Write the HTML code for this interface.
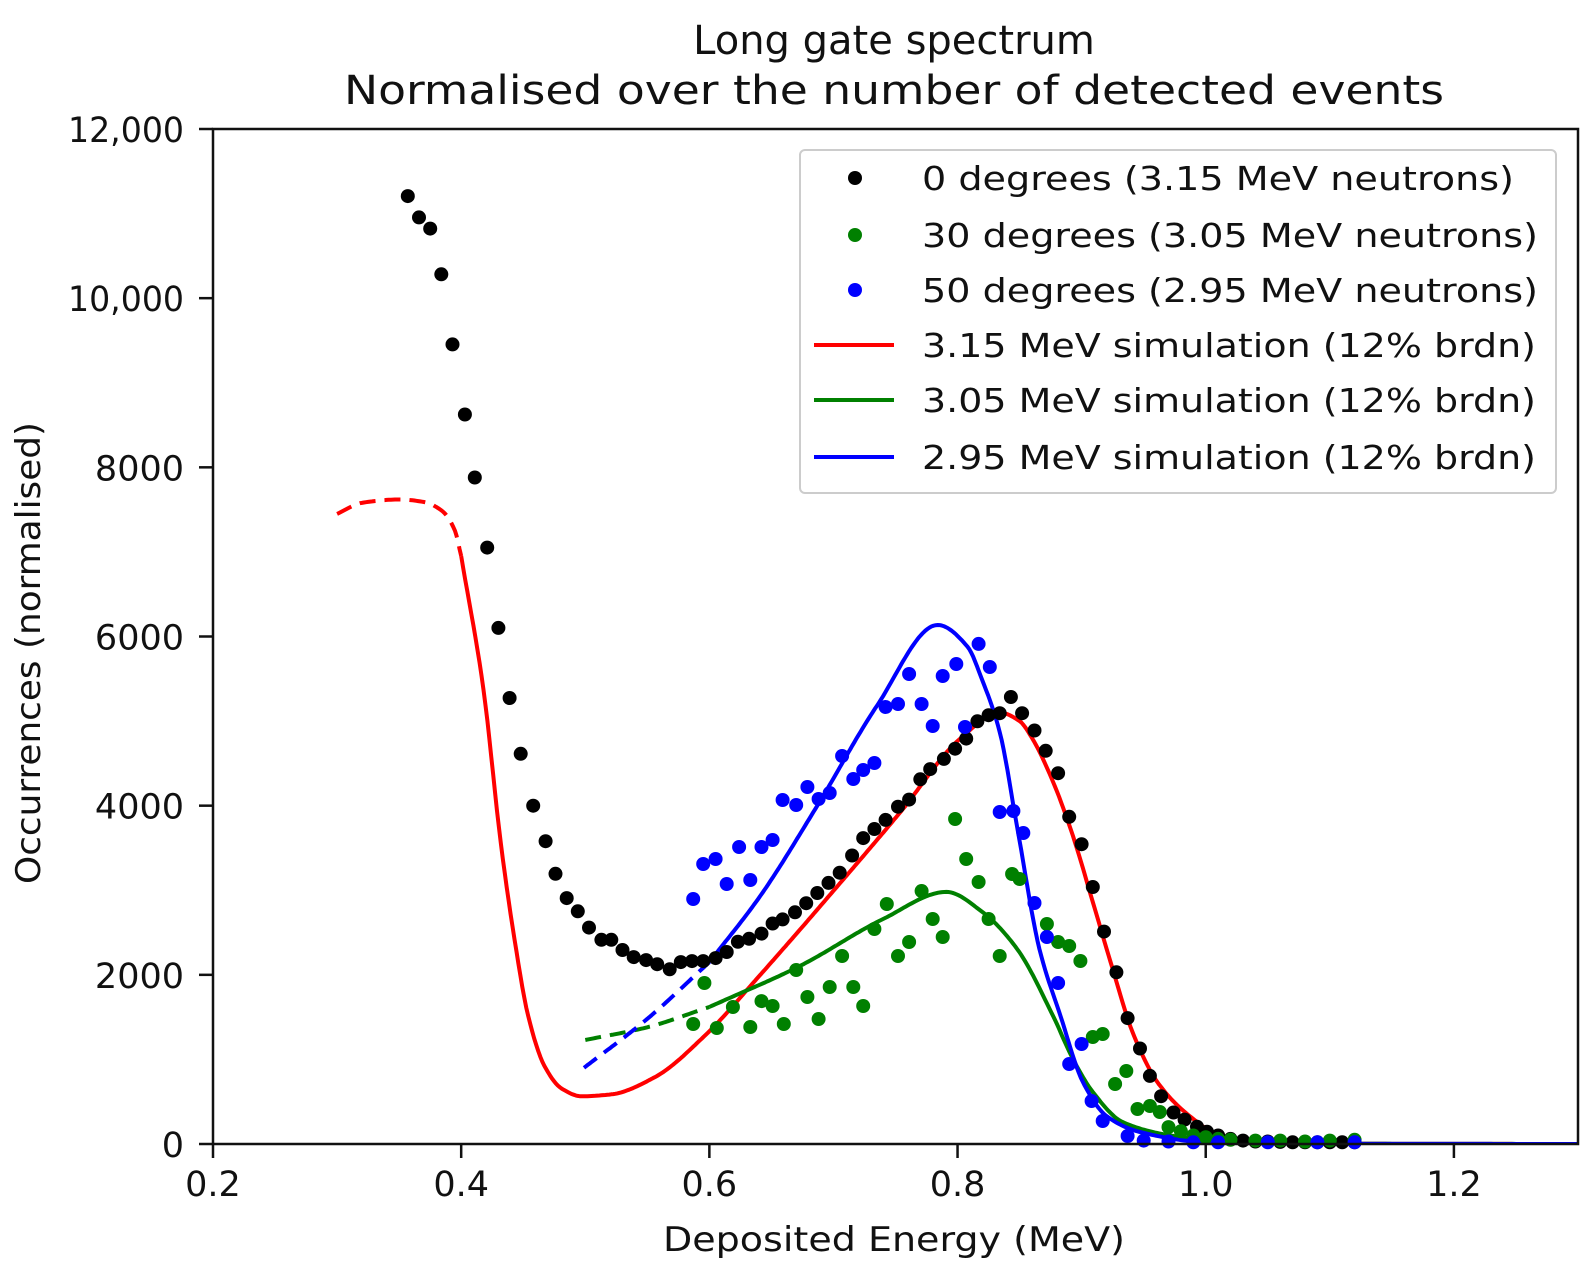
<!DOCTYPE html>
<html><head><meta charset="utf-8"><style>
html,body{margin:0;padding:0;background:#fff;}
svg{display:block;font-family:"DejaVu Sans","Liberation Sans",sans-serif;}
</style></head><body>
<svg id="chart" width="1593" height="1276" viewBox="0 0 1593 1276" xmlns="http://www.w3.org/2000/svg">
<rect x="0" y="0" width="1593" height="1276" fill="#fff"/>
<text x="894" y="54" font-size="40" text-anchor="middle" fill="#111">Long gate spectrum</text>
<text x="894" y="104" font-size="40" text-anchor="middle" fill="#111" textLength="1100" lengthAdjust="spacingAndGlyphs">Normalised over the number of detected events</text>
<g id="plot"></g>
<text x="894" y="1251" font-size="34" text-anchor="middle" fill="#111" textLength="462" lengthAdjust="spacingAndGlyphs">Deposited Energy (MeV)</text>
<text x="0" y="0" font-size="34" text-anchor="middle" fill="#111" transform="translate(40,653) rotate(-90)" textLength="462" lengthAdjust="spacingAndGlyphs">Occurrences (normalised)</text>
<g id="legend"></g>
</svg>
<script>
const xTicks=[0.2,0.4,0.6,0.8,1.0,1.2];
const xTickLabels=["0.2","0.4","0.6","0.8","1.0","1.2"];
const yTicks=[0,2000,4000,6000,8000,10000,12000];
const yTickLabels=["0","2000","4000","6000","8000","10,000","12,000"];
const blackX=[.357,.366,.375,.384,.393,.403,.411,.421,.430,.439,.448,.458,.468,.476,.485,.494,.503,.513,.521,.530,.539,.549,.558,.568,.577,.586,.595,.605,.614,.623,.632,.642,.651,.659,.669,.678,.687,.696,.705,.715,.724,.733,.742,.752,.761,.770,.778,.789,.798,.807,.816,.825,.834,.843,.852,.862,.871,.881,.890,.900,.909,.918,.928,.937,.947,.955,.964,.974,.983,.993,1.001,1.01,1.02,1.03,1.04,1.05,1.06,1.07,1.08,1.09,1.10,1.11,1.12];
const blackY=[11207,10955,10823,10282,9453,8625,7880,7051,6102,5273,4613,4000,3580,3195,2907,2751,2559,2414,2414,2294,2210,2174,2126,2066,2150,2162,2162,2198,2270,2390,2426,2487,2607,2655,2739,2847,2967,3087,3207,3411,3616,3724,3832,3988,4072,4312,4432,4553,4673,4793,4997,5069,5093,5285,5093,4889,4649,4384,3868,3544,3039,2511,2030,1489,1129,805,565,372,288,204,144,100,60,40,30,30,25,20,20,20,20,20,20];
const greenX=[.587,.596,.606,.619,.633,.642,.651,.660,.670,.679,.688,.697,.707,.716,.724,.733,.743,.752,.761,.771,.780,.788,.798,.807,.817,.825,.834,.844,.850,.872,.881,.890,.899,.909,.917,.927,.936,.945,.955,.963,.97,.98,.99,1.0,1.01,1.02,1.04,1.06,1.08,1.10,1.12];
const greenY=[1419,1904,1371,1620,1383,1690,1632,1419,2057,1738,1478,1856,2223,1856,1632,2542,2838,2223,2388,2991,2660,2447,3842,3370,3098,2660,2223,3192,3133,2601,2388,2341,2164,1265,1300,709,863,414,449,378,200,150,100,80,60,50,40,40,30,40,50];
const blueX=[.587,.595,.605,.614,.624,.633,.642,.651,.659,.670,.679,.688,.697,.707,.716,.724,.733,.742,.752,.761,.771,.780,.788,.799,.806,.817,.826,.834,.845,.853,.862,.872,.881,.890,.900,.908,.917,.937,.95,.97,.99,1.01,1.05,1.09,1.12];
const blueY=[2897,3310,3370,3074,3511,3121,3511,3594,4067,4008,4221,4079,4150,4587,4315,4422,4505,5167,5202,5557,5202,4942,5533,5675,4930,5912,5640,3925,3937,3677,2849,2447,1904,946,1182,508,272,95,40,30,20,20,20,20,20];
const redDashX=[.30,.32,.35,.37,.385,.395,.40];
const redDashY=[7450,7580,7620,7590,7480,7250,6950];
const redX=[.40,.418,.432,.443,.454,.467,.481,.497,.521,.556,.597,.638,.708,.754,.802,.834,.85,.86,.877,.893,.909,.925,.941,.961,.987,1.01,1.03,1.06,1.1,1.3];
const redY=[6950,5370,3550,2420,1515,926,655,564,587,790,1290,1950,3130,3925,4790,5100,5000,4800,4280,3641,2861,2069,1324,733,331,110,45,12,3,0];
const greenDashX=[.50,.55,.60];
const greenDashY=[1230,1380,1620];
const greenLineX=[.60,.673,.74,.791,.82,.848,.877,.893,.909,.933,.974,1.02,1.1,1.3];
const greenLineY=[1620,2105,2660,2980,2743,2306,1513,1005,615,260,95,20,3,0];
const blueDashX=[.499,.55,.60];
const blueDashY=[901,1480,2150];
const blueLineX=[.60,.641,.687,.735,.784,.808,.820,.834,.848,.866,.883,.901,.920,.947,1.0,1.05,1.3];
const blueLineY=[2150,2932,4000,5180,6136,5880,5480,4870,3750,2305,1513,733,331,142,20,3,0];

const NS="http://www.w3.org/2000/svg";
const L=213,R=1578,T=129,B=1144;
const xMin=0.2,xMax=1.3,yMin=0,yMax=12000;
function sx(v){return L+(v-xMin)/(xMax-xMin)*(R-L);}
function sy(v){return B-(v-yMin)/(yMax-yMin)*(B-T);}
const plot=document.getElementById('plot');
const legend=document.getElementById('legend');
function mk(tag,attrs,parent){const e=document.createElementNS(NS,tag);for(const k in attrs)e.setAttribute(k,attrs[k]);(parent||plot).appendChild(e);return e;}
function smoothPath(xs,ys){
  const n=xs.length,d=[],m=new Array(n);
  for(let i=0;i<n-1;i++)d.push((ys[i+1]-ys[i])/(xs[i+1]-xs[i]));
  m[0]=d[0];m[n-1]=d[n-2];
  for(let i=1;i<n-1;i++){
    if(d[i-1]*d[i]<=0)m[i]=0;
    else{const w1=2*(xs[i+1]-xs[i])+(xs[i]-xs[i-1]),w2=(xs[i+1]-xs[i])+2*(xs[i]-xs[i-1]);m[i]=(w1+w2)/(w1/d[i-1]+w2/d[i]);}
  }
  let path="M"+sx(xs[0]).toFixed(1)+","+sy(ys[0]).toFixed(1);
  for(let i=0;i<n-1;i++){
    const h=xs[i+1]-xs[i],steps=Math.max(4,Math.ceil(h*600));
    for(let k=1;k<=steps;k++){
      const t=k/steps,t2=t*t,t3=t2*t;
      const v=(2*t3-3*t2+1)*ys[i]+(t3-2*t2+t)*h*m[i]+(-2*t3+3*t2)*ys[i+1]+(t3-t2)*h*m[i+1];
      path+=" L"+sx(xs[i]+t*h).toFixed(1)+","+sy(v).toFixed(1);
    }
  }
  return path;
}
const clip=mk('clipPath',{id:'pc'});
mk('rect',{x:L,y:T,width:R-L,height:B-T},clip);

function line(xs,ys,color,dash,name){
  const e=mk('path',{d:smoothPath(xs,ys),fill:'none',stroke:color,'stroke-width':4,'stroke-linejoin':'round','stroke-dasharray':dash||'none','clip-path':'url(#pc)'});
  
  
}
line(redDashX,redDashY,'#ff0000','16,9','red-sim-dashed');
line(redX,redY,'#ff0000',null,'red-sim-line');
line(greenDashX,greenDashY,'#008000','16,9','green-sim-dashed');
line(greenLineX,greenLineY,'#008000',null,'green-sim-line');
line(blueDashX,blueDashY,'#0000ff','16,9','blue-sim-dashed');
line(blueLineX,blueLineY,'#0000ff',null,'blue-sim-line');

function pts(xs,ys,color,name){
  for(let i=0;i<xs.length;i++){
    const c=mk('circle',{cx:sx(xs[i]).toFixed(1),cy:sy(ys[i]).toFixed(1),r:7,fill:color});
    
    
  }
}
pts(blackX,blackY,'#000000','point-0-degrees');
pts(greenX,greenY,'#008000','point-30-degrees');
pts(blueX,blueY,'#0000ff','point-50-degrees');

const frame=mk('rect',{x:L,y:T,width:R-L,height:B-T,fill:'none',stroke:'#111','stroke-width':2.5});


for(let i=0;i<xTicks.length;i++){
  const x=sx(xTicks[i]);
  const t=mk('line',{x1:x,x2:x,y1:B,y2:B+14,stroke:'#111','stroke-width':2.5});
  
  
  const lb=mk('text',{x:x,y:B+52,'font-size':35,'text-anchor':'middle',fill:'#111'});
  lb.textContent=xTickLabels[i];
  
  
}
for(let i=0;i<yTicks.length;i++){
  const y=sy(yTicks[i]);
  const t=mk('line',{x1:L-14,x2:L,y1:y,y2:y,stroke:'#111','stroke-width':2.5});
  
  
  const lb=mk('text',{x:184,y:y+13,'font-size':35,'text-anchor':'end',fill:'#111'});
  if(yTickLabels[i].length===6){lb.setAttribute('textLength',116);lb.setAttribute('lengthAdjust','spacingAndGlyphs');}
  lb.textContent=yTickLabels[i];
  
  
}

const lbox=mk('rect',{x:800,y:150,width:756,height:343,rx:5,fill:'#fff','fill-opacity':0.9,stroke:'#ccc','stroke-width':2},legend);


const legLabels=["0 degrees (3.15 MeV neutrons)","30 degrees (3.05 MeV neutrons)","50 degrees (2.95 MeV neutrons)","3.15 MeV simulation (12% brdn)","3.05 MeV simulation (12% brdn)","2.95 MeV simulation (12% brdn)"];
const legColors=['#000000','#008000','#0000ff','#ff0000','#008000','#0000ff'];
const legRows=[178,235,290,345,400,457];
const legWidths=[592,616,616,614,614,614];
for(let i=0;i<6;i++){
  const y=legRows[i];
  if(i<3){
    const m=mk('circle',{cx:855,cy:y,r:7,fill:legColors[i]},legend);
    
    
  } else {
    const m=mk('line',{x1:814,x2:894,y1:y,y2:y,stroke:legColors[i],'stroke-width':4},legend);
    
    
  }
  const t=mk('text',{x:922,y:y+12,'font-size':33,fill:'#111',textLength:legWidths[i],lengthAdjust:'spacingAndGlyphs'},legend);
  t.textContent=legLabels[i];
  
  
}
</script>
</body></html>
